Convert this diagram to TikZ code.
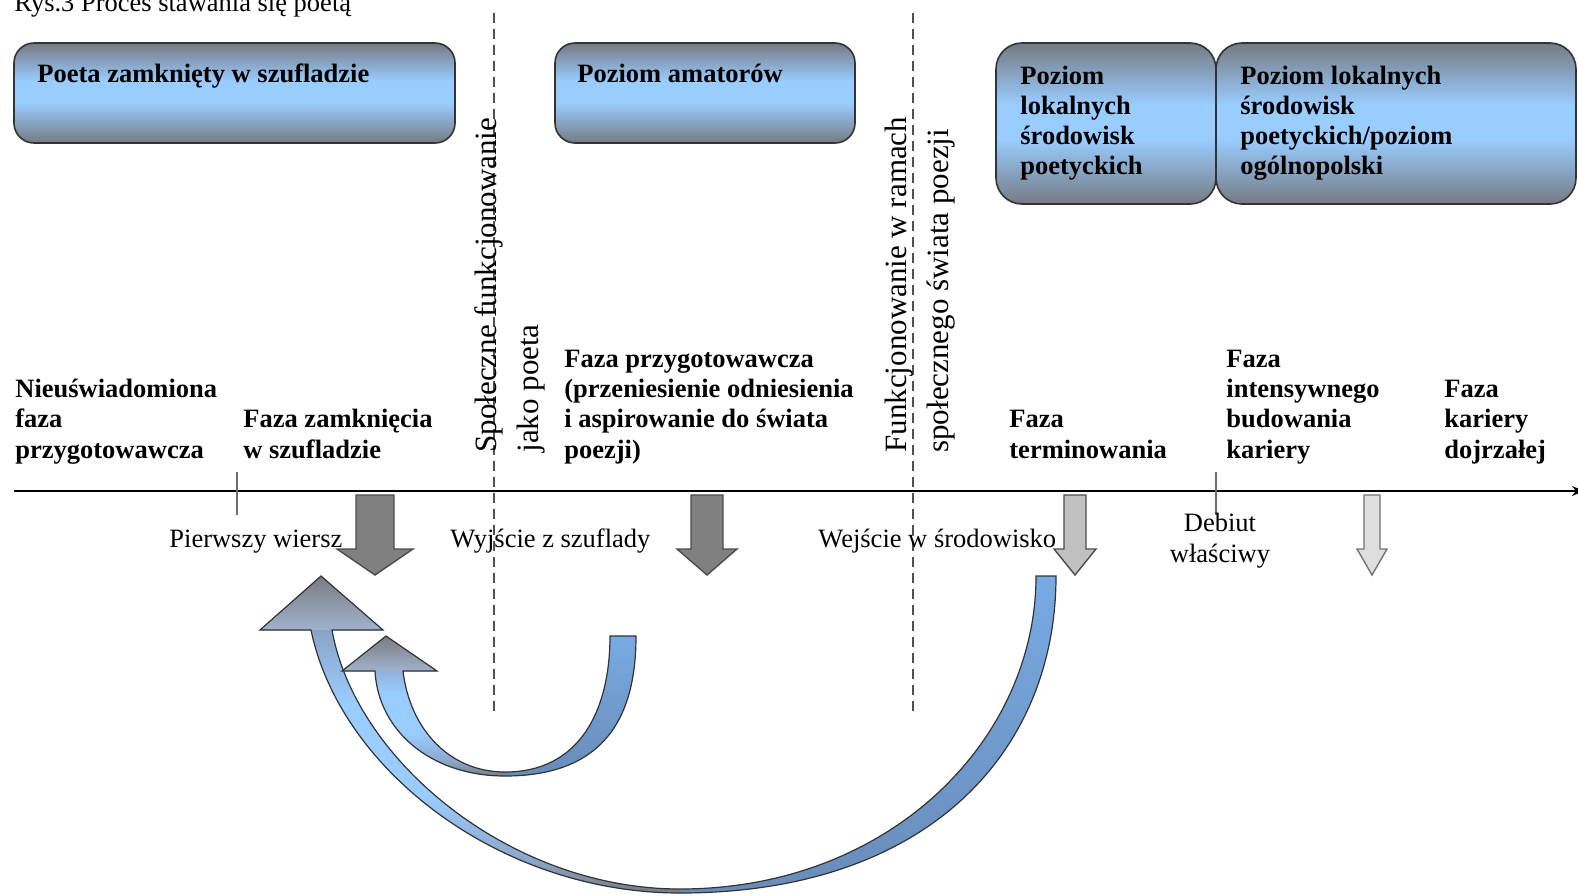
\documentclass[tikz,border=0pt]{standalone}
\usepackage{fontspec}
\setmainfont{Liberation Serif}
\usetikzlibrary{arrows.meta}
\definecolor{boxgray}{RGB}{118,122,130}
\definecolor{boxblue}{RGB}{153,204,255}
\definecolor{arrdark}{RGB}{128,128,128}
\definecolor{arrmid}{RGB}{192,192,192}
\definecolor{arrlight}{RGB}{222,222,222}
\definecolor{bandtop}{RGB}{120,170,228}
\definecolor{bandbot}{RGB}{105,140,185}
\definecolor{bgrey}{RGB}{120,124,132}
\definecolor{bmid}{RGB}{140,165,200}
\definecolor{headgray}{RGB}{122,124,130}
\definecolor{headlow}{RGB}{160,178,205}
\definecolor{dashcol}{RGB}{80,80,80}
\definecolor{tickcol}{RGB}{110,110,110}
\pgfdeclareverticalshading{boxsh}{100bp}{color(0bp)=(boxgray); color(25bp)=(boxgray); color(45bp)=(boxblue); color(56bp)=(boxblue); color(75bp)=(boxgray); color(100bp)=(boxgray)}
\pgfdeclareverticalshading{bandsh}{100bp}{color(0bp)=(bgrey); color(25bp)=(bgrey); color(30bp)=(bmid); color(40bp)=(boxblue); color(55bp)=(boxblue); color(66bp)=(bmid); color(75bp)=(bgrey); color(100bp)=(bgrey)}
\newcommand\lnsB[1]{\begin{tabular}[b]{@{}l@{}}#1\end{tabular}}
\newcommand\lnsT[1]{\begin{tabular}[t]{@{}l@{}}#1\end{tabular}}
\newcommand\lnsC[1]{\begin{tabular}[b]{@{}c@{}}#1\end{tabular}}
\newcommand\downarr[4]{\draw[#1] (#2-#3,495) -- (#2+#3,495) -- (#2+#3,549) -- (#2+#4,549) -- (#2,575) -- (#2-#4,549) -- (#2-#3,549) -- cycle;}
\begin{document}
\begin{tikzpicture}[x=0.5pt,y=-0.5pt,
 boxst/.style={shading=boxsh, draw=black!80, line width=0.8pt},
 divline/.style={dashcol, line width=1pt, dash pattern=on 5pt off 3pt},
 tickst/.style={tickcol, line width=1pt},
 phase/.style={inner sep=0pt, anchor=base west, font=\fontsize{13.25}{15.15}\selectfont\bfseries},
 plain/.style={inner sep=0pt, anchor=base west, font=\fontsize{13.25}{15.15}\selectfont},
 vert/.style={inner sep=0pt, anchor=base west, rotate=90, font=\fontsize{15.5}{21}\selectfont},
 dnarrow/.style={draw=black!70, line width=0.7pt},
 outl/.style={draw=black!80, line width=0.6pt},
]
\useasboundingbox (0,0) rectangle (1578,895);
\fill[white] (0,0) rectangle (1578,895);

% level boxes
\shadedraw[boxst, rounded corners=10pt] (14,43) rectangle (455,143);
\shadedraw[boxst, rounded corners=10pt] (555,43) rectangle (855,143);
\shadedraw[boxst, rounded corners=13pt] (1216,43) rectangle (1576,204);
\shadedraw[boxst, rounded corners=13pt] (996,43) rectangle (1216,204);

\node[plain] (title) at (14,11) {Rys.3 Proces stawania się poetą};
\node[phase] (t1) at (37,82) {Poeta zamknięty w szufladzie};
\node[phase] (t2) at (577,82) {Poziom amatorów};
\node[phase] (t3) at (1020,84) {\lnsT{Poziom\\lokalnych\\środowisk\\poetyckich}};
\node[phase] (t4) at (1240,84) {\lnsT{Poziom lokalnych\\środowisk\\poetyckich/poziom\\ogólnopolski}};

% dividers
\coordinate (d1a) at (494,13); \coordinate (d1b) at (494,716);
\coordinate (d2a) at (913,13); \coordinate (d2b) at (913,716);
\draw[divline] (d1a) -- (d1b);
\draw[divline] (d2a) -- (d2b);
\node[vert] (v1) at (496,453) {\lnsT{Społeczne funkcjonowanie\\jako poeta}};
\node[vert] (v2) at (906,453) {\lnsT{Funkcjonowanie w ramach\\społecznego świata poezji}};

% axis
\coordinate (axs) at (14,491); \coordinate (axe) at (1584,491);
\draw[line width=1pt, -{Stealth[length=6pt,width=5pt]}] (axs) -- (axe);
\coordinate (k1a) at (237,472); \coordinate (k1b) at (237,515);
\coordinate (k2a) at (1216,472); \coordinate (k2b) at (1216,515);
\draw[tickst] (k1a) -- (k1b);
\draw[tickst] (k2a) -- (k2b);

% phases
\node[phase] (p1) at (15,458) {\lnsB{Nieuświadomiona\\faza\\przygotowawcza}};
\node[phase] (p2) at (243,458) {\lnsB{Faza zamknięcia\\w szufladzie}};
\node[phase] (p3) at (564,458) {\lnsB{Faza przygotowawcza\\(przeniesienie odniesienia\\i aspirowanie do świata\\poezji)}};
\node[phase] (p4) at (1009,458) {\lnsB{Faza\\terminowania}};
\node[phase] (p5) at (1226,458) {\lnsB{Faza\\intensywnego\\budowania\\kariery}};
\node[phase] (p6) at (1444,458) {\lnsB{Faza\\kariery\\dojrzałej}};

% down arrows
\downarr{dnarrow, fill=arrdark}{375}{19}{38}
\downarr{dnarrow, fill=arrdark}{707}{16}{30}
\downarr{dnarrow, fill=arrmid}{1075}{11}{21}
\downarr{dnarrow, fill=arrlight, draw=black!55}{1372}{8}{15}

% events
\node[plain] (l1) at (169,547) {Pierwszy wiersz};
\node[plain] (l2) at (450,547) {Wyjście z szuflady};
\node[plain] (l3) at (818,547) {Wejście w środowisko};
\node[plain, anchor=base] (l4) at (1220,562) {\lnsC{Debiut\\właściwy}};

% big curved arrow
\def\bigarr{(1056,576) .. controls (1056,750) and (930,893) .. (680,893) .. controls (500,893) and (340,770) .. (311,630) -- (260,630) -- (321,576) -- (383,630) -- (332,630) .. controls (355,760) and (510,889) .. (680,889) .. controls (890,889) and (1036,740) .. (1036,576) -- cycle}
\shade[top color=bandtop, bottom color=bandbot] \bigarr;
\begin{scope}\clip (0,0) rectangle (680,895); \shade[shading=bandsh] \bigarr; \end{scope}
\shade[top color=headgray, bottom color=headlow] (260,630) -- (321,576) -- (383,630) -- cycle;
\draw[outl] \bigarr;

% small curved arrow
\def\smallarr{(636,636) .. controls (636,710) and (610,776) .. (505,776) .. controls (430,776) and (378,730) .. (375,671) -- (342,671) -- (386,636) -- (437,671) -- (403,671) .. controls (410,730) and (450,772) .. (505,772) .. controls (580,772) and (610,710) .. (610,636) -- cycle}
\shade[top color=bandtop, bottom color=bandbot] \smallarr;
\begin{scope}\clip (0,0) rectangle (505,895); \shade[shading=bandsh] \smallarr; \end{scope}
\shade[top color=headgray, bottom color=headlow] (342,671) -- (386,636) -- (437,671) -- cycle;
\draw[outl] \smallarr;
\end{tikzpicture}
\end{document}
